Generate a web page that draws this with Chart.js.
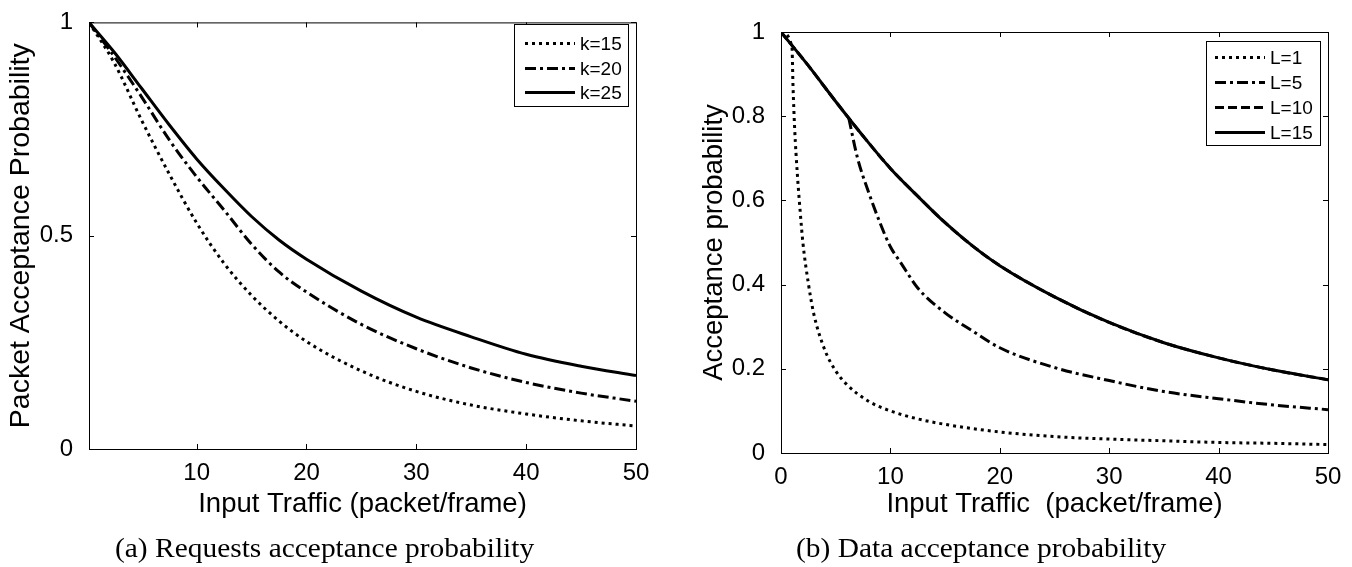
<!DOCTYPE html>
<html lang="en">
<head>
<meta charset="UTF-8">
<title>Acceptance probability</title>
<script src="https://cdn.jsdelivr.net/npm/chart.js"></script>
<style>
  body { margin: 0; background: #fff; }
  .page { position: relative; width: 1352px; height: 567px; overflow: hidden; }
  .panel { position: absolute; top: 0; width: 676px; height: 567px; }
  .caption {
    position: absolute; top: 535px; white-space: nowrap;
    font-family: "Liberation Serif", "Times New Roman", serif;
    font-size: 27px; line-height: 27px; color: #000;
    transform-origin: 0 0; transform: scaleX(1.09);
  }
</style>
<script>
// (a) requests: x = input traffic, one array per k
const reqX = [0.2, 2.5, 5, 7.5, 10, 12.5, 15, 17.5, 20, 25, 30, 35, 40, 45, 50];
const reqK15 = [1, 0.905, 0.77, 0.645, 0.53, 0.435, 0.36, 0.30, 0.252, 0.183, 0.135, 0.103, 0.082, 0.066, 0.054];
const reqK20 = [1, 0.92, 0.825, 0.725, 0.638, 0.56, 0.48, 0.415, 0.368, 0.292, 0.235, 0.19, 0.156, 0.131, 0.112];
const reqK25 = [1, 0.93, 0.845, 0.76, 0.68, 0.61, 0.545, 0.49, 0.445, 0.37, 0.309, 0.263, 0.222, 0.194, 0.172];
const reqLabels = ['k=15', 'k=20', 'k=25'];
const reqXTicks = [10, 20, 30, 40, 50];
const reqYTicks = [0, 0.5, 1];

// (b) data: each L has its own x points
const datX1 = [0, 1, 1.1, 1.25, 1.5, 1.75, 2, 2.5, 3, 4, 5, 6, 8, 10, 12.5, 15, 20, 25, 30, 35, 40, 45, 50];
const datL1 = [1, 0.965, 0.87, 0.77, 0.66, 0.575, 0.5, 0.403, 0.33, 0.245, 0.195, 0.163, 0.123, 0.1, 0.081, 0.068, 0.05, 0.039, 0.033, 0.029, 0.025, 0.023, 0.02];
const datX5 = [6.2, 7, 8, 9, 10, 11, 12.5, 15, 17.5, 20, 25, 30, 35, 40, 45, 50];
const datL5 = [0.795, 0.70, 0.62, 0.55, 0.49, 0.45, 0.392, 0.333, 0.29, 0.25, 0.203, 0.172, 0.146, 0.129, 0.114, 0.103];
const datX10 = [0, 2.5, 5, 7.5, 10, 12.5, 15, 17.5, 20, 25, 30, 35, 40, 45, 50];
const datL10 = [1, 0.92, 0.835, 0.753, 0.676, 0.61, 0.547, 0.492, 0.445, 0.371, 0.31, 0.262, 0.226, 0.197, 0.174];
const datX15 = [0, 2.5, 5, 7.5, 10, 12.5, 15, 17.5, 20, 25, 30, 35, 40, 45, 50];
const datL15 = [1, 0.92, 0.835, 0.753, 0.676, 0.61, 0.547, 0.492, 0.445, 0.371, 0.31, 0.262, 0.226, 0.197, 0.174];
const datLabels = ['L=1', 'L=5', 'L=10', 'L=15'];
const datXTicks = [0, 10, 20, 30, 40, 50];
const datYTicks = [0, 0.2, 0.4, 0.6, 0.8, 1];

const DOT = [3, 4], DASHDOT = [11, 4, 3, 4], DASH = [9, 4];

function pts(xs, ys) { return xs.map((x, i) => ({x: x, y: ys[i]})); }

function line(label, xs, ys, dash, order) {
  return {
    label: label, data: pts(xs, ys), borderColor: '#000', borderWidth: 3,
    borderDash: dash, pointRadius: 0, fill: false,
    cubicInterpolationMode: 'monotone', order: order
  };
}

// box round the plot, inward ticks on all four sides, and the legend
const frame = {
  id: 'frame',
  afterDatasetsDraw(chart, args, opts) {
    const {ctx, chartArea: a} = chart;
    const x = chart.scales.x, y = chart.scales.y;
    ctx.save();
    ctx.strokeStyle = '#000';
    ctx.lineWidth = 1;
    ctx.setLineDash([]);
    ctx.strokeRect(a.left + 0.5, a.top + 0.5, a.right - a.left, a.bottom - a.top);
    ctx.beginPath();
    x.ticks.forEach(t => {
      const p = Math.round(x.getPixelForValue(t.value)) + 0.5;
      ctx.moveTo(p, a.bottom); ctx.lineTo(p, a.bottom - 5);
      ctx.moveTo(p, a.top); ctx.lineTo(p, a.top + 5);
    });
    y.ticks.forEach(t => {
      const p = Math.round(y.getPixelForValue(t.value)) + 0.5;
      ctx.moveTo(a.left, p); ctx.lineTo(a.left + 5, p);
      ctx.moveTo(a.right, p); ctx.lineTo(a.right - 5, p);
    });
    ctx.stroke();

    const lg = opts.legend;
    ctx.fillStyle = '#fff';
    ctx.fillRect(lg.x, lg.y, lg.w, lg.h);
    ctx.strokeRect(lg.x + 0.5, lg.y + 0.5, lg.w, lg.h);
    ctx.font = '19px "Liberation Sans", Arial, sans-serif';
    ctx.textBaseline = 'middle';
    ctx.fillStyle = '#000';
    chart.data.datasets.forEach((ds, i) => {
      const cy = Math.round(lg.row0 + i * lg.step) + 0.5;
      ctx.lineWidth = 3;
      ctx.setLineDash(ds.borderDash || []);
      ctx.beginPath();
      ctx.moveTo(lg.s0, cy); ctx.lineTo(lg.s1, cy);
      ctx.stroke();
      ctx.fillText(ds.label, lg.tx, cy + 1);
    });
    ctx.restore();
  }
};

function makeChart(id, datasets, cfg) {
  new Chart(document.getElementById(id), {
    type: 'line',
    data: {datasets: datasets},
    options: {
      responsive: false,
      animation: false,
      layout: {padding: cfg.pad},
      plugins: {legend: {display: false}, tooltip: {enabled: false}, frame: {legend: cfg.legend}},
      scales: {
        x: {
          type: 'linear', min: cfg.xmin, max: 50,
          afterBuildTicks: s => { s.ticks = cfg.xticks.map(v => ({value: v})); },
          afterFit: s => { s.height = cfg.xh; },
          grid: {display: false}, border: {display: false},
          ticks: {padding: 2, color: '#000', font: {size: 24}, maxRotation: 0, autoSkip: false,
                  callback: v => String(v)},
          title: {display: true, text: cfg.xtitle, color: '#000', font: {size: 27.5}, padding: 0}
        },
        y: {
          type: 'linear', min: 0, max: 1,
          afterBuildTicks: s => { s.ticks = cfg.yticks.map(v => ({value: v})); },
          afterFit: s => { s.width = cfg.yw; },
          grid: {display: false}, border: {display: false},
          ticks: {padding: 8, color: '#000', font: {size: 24}, autoSkip: false,
                  callback: v => String(v)},
          title: {display: true, text: cfg.ytitle, color: '#000', font: {size: cfg.yfs}, padding: {top: cfg.ytp, bottom: 0}}
        }
      }
    },
    plugins: [frame]
  });
}

window.addEventListener('load', () => {
  Chart.defaults.font.family = '"Liberation Sans", Arial, Helvetica, sans-serif';
  Chart.defaults.color = '#000';

  makeChart('reqChart', [
    line(reqLabels[0], reqX, reqK15, DOT, 2),
    line(reqLabels[1], reqX, reqK20, DASHDOT, 1),
    line(reqLabels[2], reqX, reqK25, [], 0)
  ], {
    pad: {top: 15, right: 40, bottom: 46, left: 0},
    xmin: 0.2, xticks: reqXTicks, yticks: reqYTicks, xh: 72, yw: 89, ytp: 4, yfs: 28.5,
    xtitle: 'Input Traffic (packet/frame)', ytitle: 'Packet Acceptance Probability',
    legend: {x: 514, y: 24, w: 114, h: 82, row0: 43, step: 24.7, s0: 525, s1: 575, tx: 580}
  });

  makeChart('datChart', [
    line(datLabels[0], datX1, datL1, DOT, 3),
    line(datLabels[1], datX5, datL5, DASHDOT, 2),
    line(datLabels[2], datX10, datL10, DASH, 1),
    line(datLabels[3], datX15, datL15, [], 0)
  ], {
    pad: {top: 32, right: 24, bottom: 46, left: 0},
    xmin: 0, xticks: datXTicks, yticks: datYTicks, xh: 68, yw: 105, ytp: 22, yfs: 27.5,
    xtitle: 'Input Traffic  (packet/frame)', ytitle: 'Acceptance probability',
    legend: {x: 530, y: 41, w: 114, h: 104, row0: 56.5, step: 25, s0: 539, s1: 589, tx: 594}
  });
});
</script>
</head>
<body>
<div class="page">
  <div class="panel" style="left:0"><canvas id="reqChart" width="676" height="567"></canvas></div>
  <div class="panel" style="left:676px"><canvas id="datChart" width="676" height="567"></canvas></div>
  <div class="caption" style="left:115px">(a) Requests acceptance probability</div>
  <div class="caption" style="left:796px">(b) Data acceptance probability</div>
</div>
</body>
</html>
